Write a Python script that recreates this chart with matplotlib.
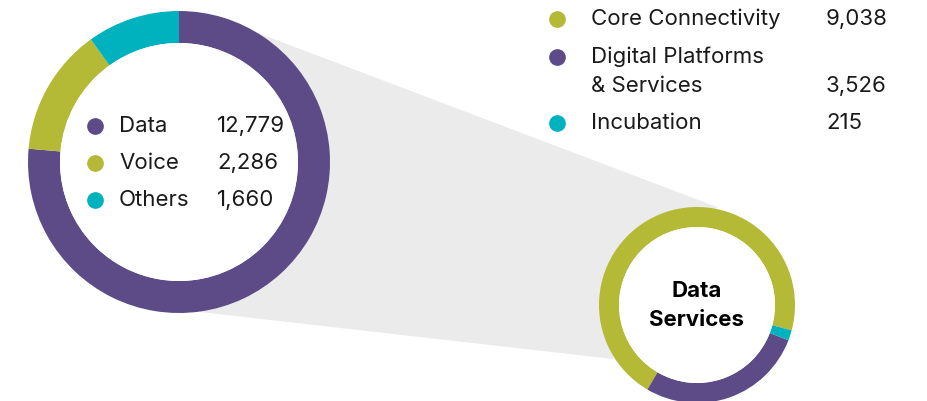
import matplotlib.pyplot as plt
from matplotlib.patches import Polygon, Circle

W, H = 927, 401

# big donut: revenue by segment
segments = ["Data", "Voice", "Others"]
segment_values = [12779, 2286, 1660]

# small donut: breakdown of data services
services = ["Core Connectivity", "Digital Platforms\n& Services", "Incubation"]
service_values = [9038, 3526, 215]

PURPLE = "#5c4b87"
GREEN = "#b4b936"
CYAN = "#00b2be"
GREY = "#ebebeb"

plt.rcParams["font.family"] = ["Inter", "DejaVu Sans"]

fig = plt.figure(figsize=(W / 100, H / 100), dpi=100)
ax = fig.add_axes([0, 0, 1, 1])


def yp(y):
    # pixel row (top-down) -> axis y (bottom-up)
    return H - y


big_c, big_r, big_w = (179, yp(162)), 151, 32
small_c, small_r, small_w = (697, yp(305)), 98, 20

# grey funnel between the two donuts
funnel = [(250, yp(30)), (717, yp(207)), (613, yp(359)), (200, yp(312))]
ax.add_patch(Polygon(funnel, closed=True, facecolor=GREY, edgecolor="none", zorder=1))

ax.pie(segment_values, colors=[PURPLE, GREEN, CYAN], startangle=90, counterclock=False,
       center=big_c, radius=big_r, frame=True,
       wedgeprops=dict(width=big_w, edgecolor="none", zorder=2))
ax.pie(service_values, colors=[GREEN, PURPLE, CYAN], startangle=-15, counterclock=True,
       center=small_c, radius=small_r, frame=True,
       wedgeprops=dict(width=small_w, edgecolor="none", zorder=2))

ax.add_patch(Circle(big_c, big_r - big_w, facecolor="white", edgecolor="none", zorder=3))
ax.add_patch(Circle(small_c, small_r - small_w, facecolor="white", edgecolor="none", zorder=3))

fs = 16

# legend inside the big donut
for i, (name, val, col) in enumerate(zip(segments, segment_values, [PURPLE, GREEN, CYAN])):
    y = yp(126 + 37 * i)
    ax.plot(95, y, "o", ms=11, color=col, zorder=4)
    ax.text(119, y, name, fontsize=fs, va="center", ha="left", color="#1a1a1a", zorder=4)
    ax.text(217, y, f"{val:,}", fontsize=fs, va="center", ha="left", color="#1a1a1a", zorder=4)

# legend for the data services breakdown
rows = [19, 57, 123]
for name, val, col, row in zip(services, service_values, [GREEN, PURPLE, CYAN], rows):
    lines = name.split("\n")
    ax.plot(557, yp(row), "o", ms=11, color=col, zorder=4)
    for j, line in enumerate(lines):
        ax.text(591, yp(row + 29 * j), line, fontsize=fs, va="center", ha="left",
                color="#1a1a1a", zorder=4)
    ax.text(826, yp(row + 29 * (len(lines) - 1)), f"{val:,}", fontsize=fs, va="center",
            ha="left", color="#1a1a1a", zorder=4)

ax.text(small_c[0], yp(291), "Data", fontsize=16, fontweight="bold", ha="center",
        va="center", color="black", zorder=4)
ax.text(small_c[0], yp(320), "Services", fontsize=16, fontweight="bold", ha="center",
        va="center", color="black", zorder=4)

ax.set_xlim(0, W)
ax.set_ylim(0, H)
ax.set_aspect("auto")
ax.axis("off")

fig.savefig("out.png", dpi=100, facecolor="white")
